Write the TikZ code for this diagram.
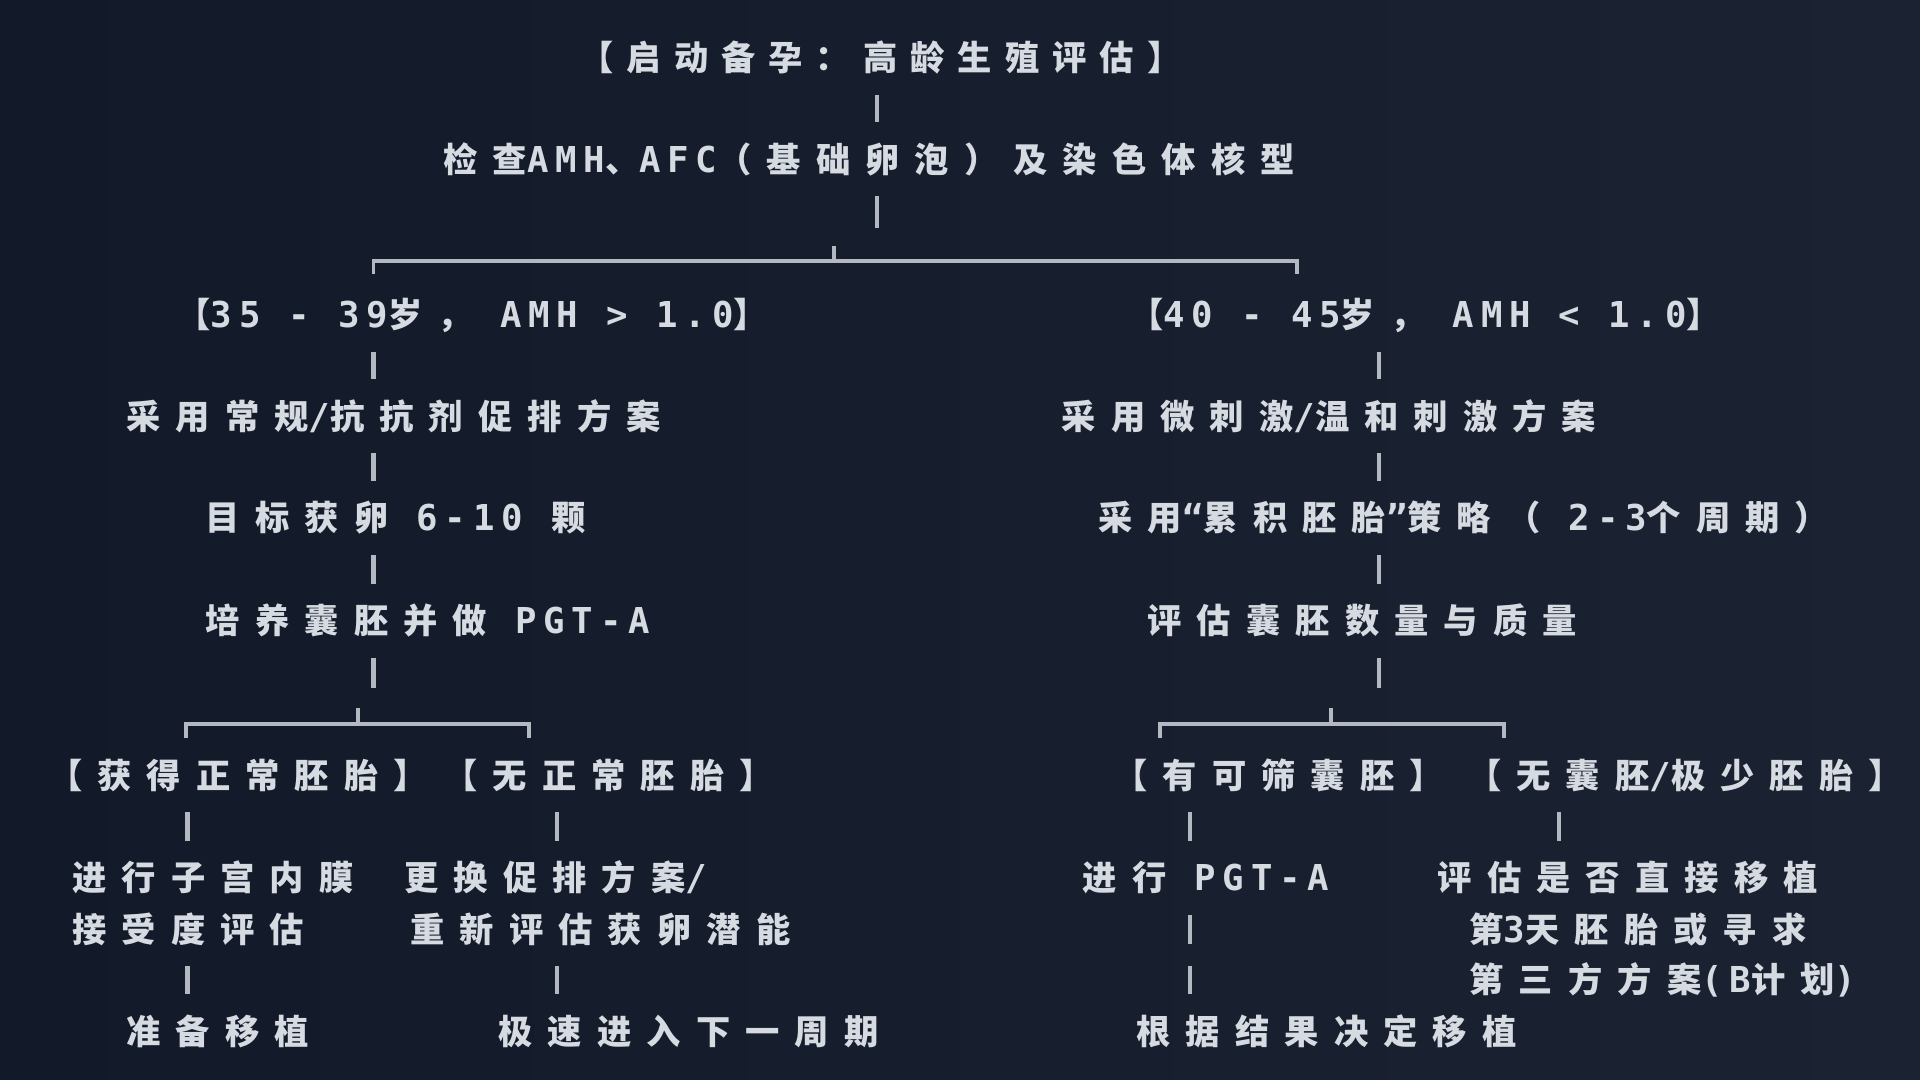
\documentclass[tikz,border=0pt]{standalone}
\usepackage{fontspec}
\setmainfont{Noto Sans CJK SC}[LetterSpace=44]
\newfontfamily\monofont{DejaVu Sans Mono}[Scale=1.04,LetterSpace=19]
\newcommand\lat[1]{{\monofont\bfseries #1}}
\definecolor{bgdark}{HTML}{121929}
\definecolor{bglite}{HTML}{1B2232}
\definecolor{txtgray}{HTML}{D6DAE1}
\definecolor{linegray}{HTML}{B4B8C0}
\tikzset{
  lbl/.style={anchor=west, inner sep=0pt, text height=22.6pt, text depth=1.4pt,
    text=txtgray, font=\fontsize{28}{30}\selectfont\bfseries},
  conn/.style={draw=linegray, line width=3.6pt, shorten <=18pt, shorten >=18pt},
  stub/.style={draw=linegray, line width=3.6pt, shorten <=18pt},
  bar/.style={draw=linegray, line width=3.2pt},
}

\begin{document}
\begin{tikzpicture}[x=1pt, y=-1pt]
\shade[left color=bgdark, right color=bglite] (0,0) rectangle (1568,882);
%
\coordinate (c0) at (716,0);
\coordinate (cL) at (305,0);
\coordinate (cR) at (1126,0);
\coordinate (cLL) at (153,0);
\coordinate (cLR) at (455,0);
\coordinate (cRL) at (972,0);
\coordinate (cRR) at (1273,0);
%
\node[lbl] (start) at (473,47) {\addfontfeatures{LetterSpace=38}【启动备孕：高龄生殖评估】};
\node[lbl] (chk) at (362,130) {检查\lat{AMH}、\lat{AFC}（基础卵泡）及染色体核型};
\draw[conn] (start.south -| c0) -- (chk.north -| c0);
\draw[stub] (chk.south -| c0) -- ++(0,44);
%
\coordinate (fkTop) at (681,201);
\draw[bar] (fkTop) -- ++(0,12);
\draw[bar] (305,224) |- (1059,213) -- (1059,224);
%
% left branch
\node[lbl] (young) at (144,257) {【\lat{35 - 39}岁，\lat{ AMH > 1.0}】};
\node[lbl] (pL1) at (103,340) {采用常规\lat{/}抗抗剂促排方案};
\node[lbl] (pL2) at (168,423) {目标获卵\lat{ 6-10 }颗};
\node[lbl] (pL3) at (168,507) {培养囊胚并做\lat{ PGT-A}};
\draw[conn] (young.south -| cL) -- (pL1.north -| cL);
\draw[conn] (pL1.south -| cL) -- (pL2.north -| cL);
\draw[conn] (pL2.south -| cL) -- (pL3.north -| cL);
\draw[stub] (pL3.south -| cL) -- ++(0,43);
%
% right branch
\node[lbl] (older) at (922,257) {【\lat{40 - 45}岁，\lat{ AMH < 1.0}】};
\node[lbl] (pR1) at (867,340) {采用微刺激\lat{/}温和刺激方案};
\node[lbl] (pR2) at (897,423) {采用\lat{“}累积胚胎\lat{”}策略（\lat{ 2-3}个周期）};
\node[lbl] (pR3) at (937,507) {评估囊胚数量与质量};
\draw[conn] (older.south -| cR) -- (pR1.north -| cR);
\draw[conn] (pR1.south -| cR) -- (pR2.north -| cR);
\draw[conn] (pR2.south -| cR) -- (pR3.north -| cR);
\draw[stub] (pR3.south -| cR) -- ++(0,43);
%
\coordinate (fkL) at (292,578);
\coordinate (fkR) at (1087,578);
\draw[bar] (fkL) -- ++(0,13);
\draw[bar] (152,603) |- (432,591) -- (432,603);
\draw[bar] (fkR) -- ++(0,13);
\draw[bar] (947,603) |- (1228,591) -- (1228,603);
%
% outcomes
\node[lbl] (okL) at (39,633) {【获得正常胚胎】};
\node[lbl] (noL) at (362,633) {【无正常胚胎】};
\node[lbl] (okR) at (909,633) {【有可筛囊胚】};
\node[lbl] (noR) at (1198,633) {【无囊胚\lat{/}极少胚胎】};
%
\node[lbl] (l1a) at (59,717) {进行子宫内膜};
\node[lbl] (l1b) at (59,759) {接受度评估};
\node[lbl] (l1c) at (103,842) {准备移植};
\draw[conn] (okL.south -| cLL) -- (l1a.north -| cLL);
\draw[conn] (l1b.south -| cLL) -- (l1c.north -| cLL);
%
\node[lbl] (l2a) at (330,717) {更换促排方案\lat{/}};
\node[lbl] (l2b) at (335,759) {重新评估获卵潜能};
\node[lbl] (l2c) at (407,842) {极速进入下一周期};
\draw[conn] (noL.south -| cLR) -- (l2a.north -| cLR);
\draw[conn] (l2b.south -| cLR) -- (l2c.north -| cLR);
%
\node[lbl] (r1a) at (884,717) {进行\lat{ PGT-A}};
\node[lbl] (r1c) at (928,842) {根据结果决定移植};
\draw[conn] (okR.south -| cRL) -- (r1a.north -| cRL);
\draw[conn, dash pattern=on 24pt off 18pt] (r1a.south -| cRL) -- (r1c.north -| cRL);
%
\node[lbl] (r2a) at (1174,717) {评估是否直接移植};
\node[lbl] (r2b) at (1200,759) {第\lat{3}天胚胎或寻求};
\node[lbl] (r2c) at (1200,800) {第三方方案\lat{(B}计划\lat{)}};
\draw[conn] (noR.south -| cRR) -- (r2a.north -| cRR);
\end{tikzpicture}
\end{document}
